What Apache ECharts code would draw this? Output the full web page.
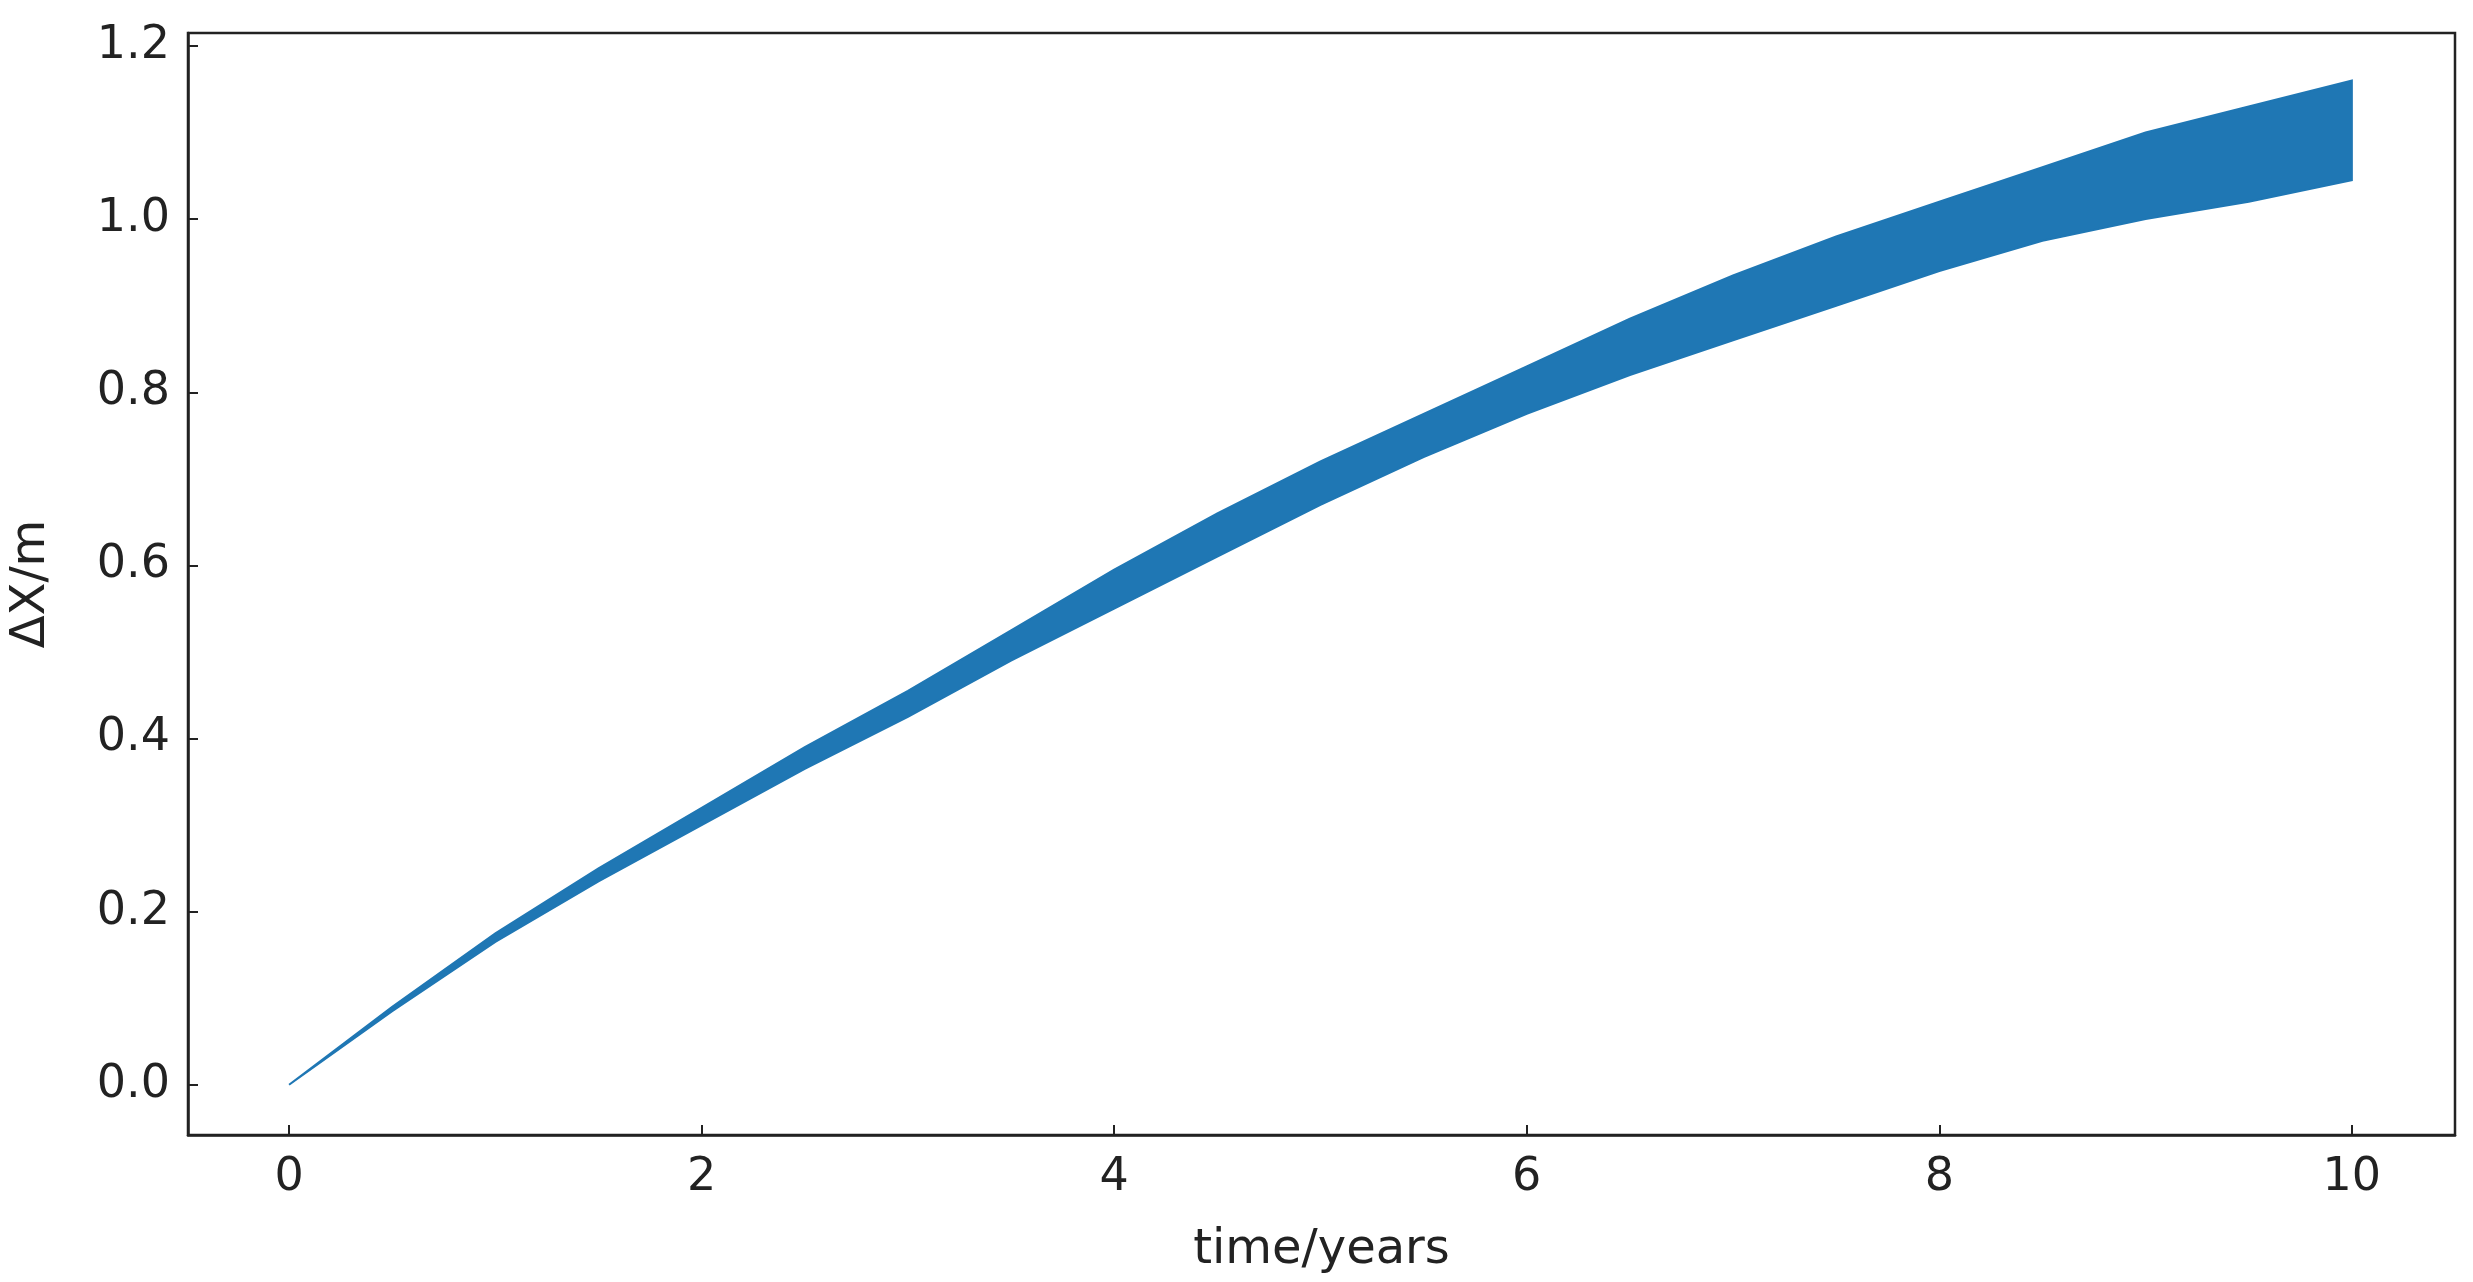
<!DOCTYPE html>
<html>
<head>
<meta charset="utf-8">
<script src="https://cdn.jsdelivr.net/npm/echarts@6/dist/echarts.min.js"></script>
<style>html,body{margin:0;padding:0;background:#fff}#main{width:2473px;height:1282px}</style>
</head>
<body>
<div id="main"></div>
<script>
// band
const years = [0, 0.5, 1, 1.5, 2, 2.5, 3, 3.5, 4, 4.5, 5, 5.5, 6, 6.5, 7, 7.5, 8, 8.5, 9, 9.5, 10]
const upper = [0, 0.09, 0.175, 0.25, 0.32, 0.39, 0.455, 0.525, 0.595, 0.66, 0.72, 0.775, 0.83, 0.885, 0.935, 0.98, 1.02, 1.06, 1.10, 1.13, 1.16]
const lower = [0, 0.085, 0.165, 0.235, 0.30, 0.365, 0.425, 0.49, 0.55, 0.61, 0.67, 0.725, 0.775, 0.82, 0.86, 0.90, 0.94, 0.975, 1.00, 1.02, 1.045]
const xTicks = [0, 2, 4, 6, 8, 10]
const yTicks = [0, 0.2, 0.4, 0.6, 0.8, 1.0, 1.2]

const blue = '#1f77b4'
const font = 'DejaVu Sans'
var myChart = echarts.init(document.getElementById('main'))

// polygon: along upper, back along lower
function renderBand(params, api) {
    const pts = []
    years.forEach((x, i) => pts.push(api.coord([x, upper[i]])))
    for (let i = years.length - 1; i >= 0; i--) pts.push(api.coord([years[i], lower[i]]))
    return {
        type: 'polygon',
        shape: { points: pts },
        style: { fill: blue, stroke: blue, lineWidth: 2 }
    }
}

myChart.setOption({
    animation: false,
    grid: { left: 188, right: 18, top: 33, bottom: 147, show: true, borderColor: '#222', borderWidth: 2.5 },
    xAxis: {
        type: 'value', min: -0.49, max: 10.5,
        name: 'time/years', nameLocation: 'middle', nameGap: 92,
        nameTextStyle: { fontFamily: font, fontSize: 48, color: '#222' },
        axisLine: { show: true, onZero: false, lineStyle: { color: '#222', width: 2.5 } },
        axisTick: { show: true, inside: true, length: 10, customValues: xTicks, lineStyle: { color: '#222', width: 2 } },
        axisLabel: { customValues: xTicks, margin: 20, fontFamily: font, fontSize: 46, color: '#222' },
        splitLine: { show: false }
    },
    yAxis: {
        type: 'value', min: -0.058, max: 1.215,
        name: 'ΔX/m', nameLocation: 'middle', nameGap: 132, nameRotate: 90,
        nameTextStyle: { fontFamily: font, fontSize: 48, color: '#222' },
        axisLine: { show: true, onZero: false, lineStyle: { color: '#222', width: 2.5 } },
        axisTick: { show: true, inside: true, length: 10, customValues: yTicks, lineStyle: { color: '#222', width: 2 } },
        axisLabel: { customValues: yTicks, margin: 18, fontFamily: font, fontSize: 46, color: '#222',
            formatter: v => v.toFixed(1) },
        splitLine: { show: false }
    },
    series: [{
        type: 'custom',
        renderItem: renderBand,
        data: [[0, 0]],
        clip: true
    }]
})
</script>
</body>
</html>
